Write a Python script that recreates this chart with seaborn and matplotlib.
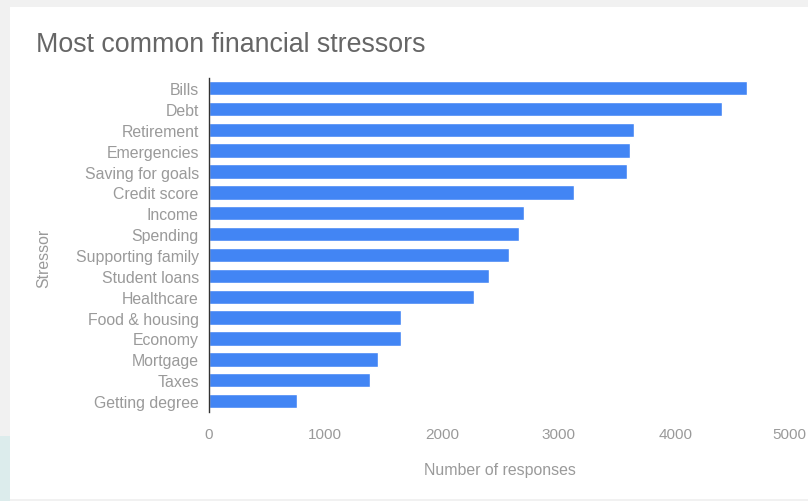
import matplotlib
matplotlib.use("Agg")
import matplotlib.pyplot as plt
from matplotlib.patches import Rectangle
from matplotlib.transforms import ScaledTranslation
import seaborn as sns
import pandas as pd

stressors = ["Bills", "Debt", "Retirement", "Emergencies", "Saving for goals",
             "Credit score", "Income", "Spending", "Supporting family",
             "Student loans", "Healthcare", "Food & housing", "Economy",
             "Mortgage", "Taxes", "Getting degree"]
responses = [4615, 4400, 3646, 3612, 3583, 3136, 2703, 2658, 2578,
             2404, 2278, 1647, 1647, 1452, 1384, 761]
x_ticks = [0, 1000, 2000, 3000, 4000, 5000]

df = pd.DataFrame({"Stressor": stressors, "Number of responses": responses})

sns.set_style("white")
plt.rcParams["font.family"] = ["Liberation Sans", "DejaVu Sans"]

W, H = 808, 502
fig = plt.figure(figsize=(W / 100, H / 100), dpi=100)
fig.patch.set_facecolor("#f1f1f1")
# card background and outside decorations
fig.patches.append(Rectangle((0, 0), 10 / W, (502 - 437) / H, transform=fig.transFigure,
                             facecolor="#dcecec", edgecolor="none", zorder=-10))
fig.patches.append(Rectangle((10 / W, 2 / H), 1, (500 - 8) / H, transform=fig.transFigure,
                             facecolor="white", edgecolor="none", zorder=-10))

ax = fig.add_axes([208.5 / W, 1 - 412.5 / H, (792 - 208.5) / W, (412.5 - 78.6) / H])
ax.set_facecolor("none")
sns.barplot(data=df, y="Stressor", x="Number of responses", orient="h",
            color="#4285f4", saturation=1, width=0.69, ax=ax)

ax.set_xlim(0, 5000)
ax.set_xticks(x_ticks)
ax.set_xticklabels([str(t) for t in x_ticks])
ax.tick_params(axis="y", length=0, labelsize=11.4, labelcolor="#9a9a9a", pad=7)
ax.tick_params(axis="x", length=0, labelsize=11.0, labelcolor="#9a9a9a", pad=11)
# keep the last x tick label inside the picture
last = ax.get_xticklabels()[-1]
last.set_transform(last.get_transform() + ScaledTranslation(-3 / 100, 0, fig.dpi_scale_trans))
for s in ["top", "right", "bottom"]:
    ax.spines[s].set_visible(False)
ax.spines["left"].set_color("#333333")
ax.spines["left"].set_linewidth(1)

ax.set_xlabel("Number of responses", fontsize=11.4, color="#9a9a9a", labelpad=15)
ax.set_ylabel("")
fig.text(44 / W, 1 - 258 / H, "Stressor", rotation=90, ha="center", va="center",
         fontsize=11.4, color="#9a9a9a")

fig.text(36 / W, 1 - 45 / H, "Most common financial stressors", ha="left", va="center",
         fontsize=19.3, color="#666666")

fig.savefig("out.png", dpi=100, facecolor=fig.get_facecolor())
